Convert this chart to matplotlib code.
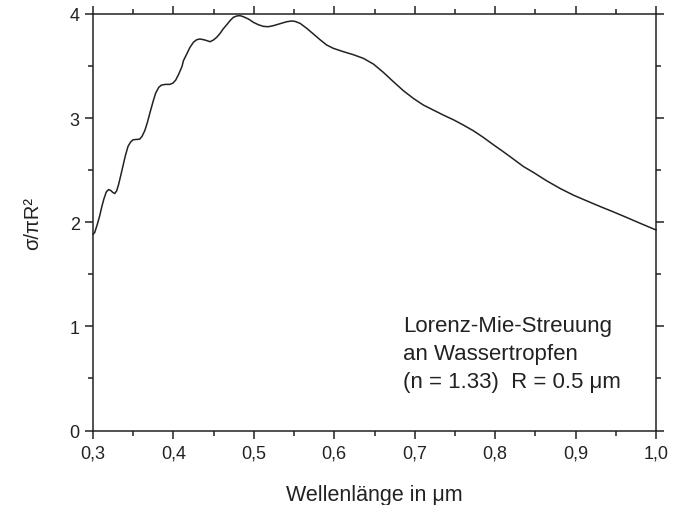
import matplotlib
matplotlib.use("Agg")
import matplotlib.pyplot as plt
from matplotlib.ticker import MultipleLocator, FuncFormatter

plt.rcParams['font.family'] = ['Liberation Sans', 'DejaVu Sans']

wavelength = [0.3000, 0.3021, 0.3054, 0.3083, 0.3112, 0.3137, 0.3166, 0.3195, 0.3220,
              0.3249, 0.3270, 0.3294, 0.3319, 0.3344, 0.3373, 0.3402, 0.3435, 0.3469,
              0.3498, 0.3539, 0.3580, 0.3609, 0.3643, 0.3676, 0.3709, 0.3746, 0.3779,
              0.3817, 0.3850, 0.3900, 0.3954, 0.3995, 0.4028, 0.4066, 0.4107, 0.4124,
              0.4165, 0.4206, 0.4248, 0.4289, 0.4331, 0.4393, 0.4455, 0.4497, 0.4538,
              0.4580, 0.4621, 0.4663, 0.4704, 0.4745, 0.4787, 0.4828, 0.4870, 0.4932,
              0.4994, 0.5056, 0.5119, 0.5181, 0.5243, 0.5326, 0.5409, 0.5471, 0.5512,
              0.5575, 0.5658, 0.5740, 0.5823, 0.5906, 0.5989, 0.6114, 0.6238, 0.6362,
              0.6487, 0.6611, 0.6736, 0.6860, 0.6984, 0.7109, 0.7233, 0.7357, 0.7482,
              0.7606, 0.7731, 0.7855, 0.7979, 0.8104, 0.8228, 0.8352, 0.8477, 0.8643,
              0.8809, 0.8974, 0.9140, 0.9306, 0.9472, 0.9638, 0.9803, 1.0000]
sigma = [1.885, 1.901, 1.981, 2.061, 2.157, 2.228, 2.292, 2.314, 2.305,
         2.285, 2.276, 2.301, 2.365, 2.446, 2.542, 2.638, 2.728, 2.772,
         2.792, 2.795, 2.798, 2.824, 2.878, 2.958, 3.054, 3.157, 3.240,
         3.295, 3.317, 3.324, 3.324, 3.337, 3.365, 3.423, 3.497, 3.551,
         3.615, 3.680, 3.728, 3.753, 3.760, 3.750, 3.734, 3.750, 3.776,
         3.814, 3.859, 3.897, 3.936, 3.968, 3.981, 3.984, 3.974, 3.952,
         3.920, 3.897, 3.881, 3.878, 3.888, 3.907, 3.926, 3.933, 3.929,
         3.910, 3.862, 3.808, 3.753, 3.702, 3.670, 3.638, 3.609, 3.574,
         3.519, 3.439, 3.349, 3.263, 3.189, 3.125, 3.077, 3.029, 2.984,
         2.933, 2.878, 2.814, 2.744, 2.676, 2.606, 2.535, 2.478, 2.397,
         2.324, 2.260, 2.205, 2.151, 2.099, 2.045, 1.990, 1.926]

fig = plt.figure(figsize=(6.73, 5.06), dpi=100)
ax = fig.add_axes([93/673, 1 - 431.5/506, (656-93)/673, (431.5-15)/506])
ax.plot(wavelength, sigma, color='#222222', lw=1.1, solid_joinstyle='round',
        clip_on=False)
ax.set_xlim(0.3, 1.0)
ax.set_ylim(0, 4)
ax.xaxis.set_major_locator(MultipleLocator(0.1))
ax.xaxis.set_minor_locator(MultipleLocator(0.05))
ax.yaxis.set_major_locator(MultipleLocator(1))
ax.yaxis.set_minor_locator(MultipleLocator(0.5))
ax.xaxis.set_major_formatter(FuncFormatter(lambda v, p: f"{v:.1f}".replace('.', ',')))
ax.yaxis.set_major_formatter(FuncFormatter(lambda v, p: f"{int(round(v))}"))
ax.tick_params(which='both', direction='out', top=True, right=True, width=1.1,
               labelsize=13, colors='#222222')
ax.tick_params(which='major', length=6)
ax.tick_params(which='minor', length=3.5)
ax.tick_params(axis='x', which='major', pad=4)
for s in ax.spines.values():
    s.set_linewidth(1.1)
    s.set_color('#222222')
ax.set_xlabel('Wellenlänge in μm', fontsize=15.5, color='#222222', labelpad=16)
ax.set_ylabel('σ/πR²', fontsize=14.5, color='#222222', labelpad=20)
ax.text(403, 506 - 316, 'Lorenz-Mie-Streuung\nan Wassertropfen\n(n = 1.33)  R = 0.5 μm',
        transform=None, fontsize=16, color='#222222', va='top', ha='left',
        linespacing=1.45)
fig.savefig('out.png', dpi=100)
